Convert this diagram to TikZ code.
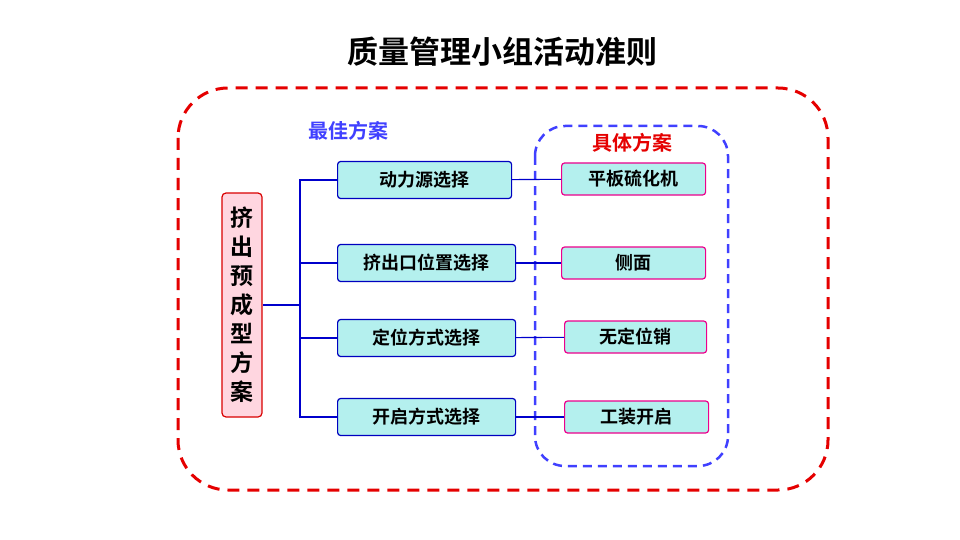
\documentclass[tikz,border=0pt]{standalone}
\usepackage{fontspec}
\setmainfont{Noto Sans CJK SC}[BoldFont={* Bold}]
\definecolor{cy}{RGB}{180,240,238}
\definecolor{pk}{RGB}{255,214,224}
\begin{document}
\begin{tikzpicture}[x=1pt,y=-1pt,
  mid/.style={draw=blue!75!black,fill=cy,line width=1.2pt,rounded corners=3pt,minimum height=37pt,font=\bfseries\fontsize{18}{18}\selectfont,anchor=west},
  rgt/.style={draw=magenta,fill=cy,line width=1.2pt,rounded corners=3pt,minimum height=32pt,font=\bfseries\fontsize{18}{18}\selectfont,anchor=west},
  con/.style={blue!80!black,line width=1.1pt}]
\useasboundingbox (0,0) rectangle (960,540);
\node[font=\bfseries\fontsize{31}{31}\selectfont] (title) at (502,52) {质量管理小组活动准则};
\draw[red!90!black,line width=3pt,dash pattern=on 12pt off 8pt,rounded corners=50pt] (178,88) rectangle (828,490);
\node[text=blue!75!white,font=\bfseries\fontsize{20}{20}\selectfont] (best) at (348,131) {最佳方案};
\draw[blue!75!white,line width=2.5pt,dash pattern=on 9pt off 6pt,rounded corners=30pt] (535,126) rectangle (728,466);
\node[text=red!90!black,font=\bfseries\fontsize{20}{20}\selectfont] (spec) at (632,143) {具体方案};
\node[draw=red!85!black,fill=pk,line width=1.2pt,rounded corners=4pt,minimum width=40pt,minimum height=224pt,align=center,font=\bfseries\fontsize{23}{29}\selectfont] (L) at (242,305) {挤\\出\\预\\成\\型\\方\\案};
\node[mid,minimum width=174pt] (m1) at (337,180) {动力源选择};
\node[mid,minimum width=178pt] (m2) at (337,263) {挤出口位置选择};
\node[mid,minimum width=178pt] (m3) at (337,338) {定位方式选择};
\node[mid,minimum width=178pt] (m4) at (337,417) {开启方式选择};
\node[rgt,minimum width=144pt] (r1) at (561,179) {平板硫化机};
\node[rgt,minimum width=144pt] (r2) at (561,263) {侧面};
\node[rgt,minimum width=142pt] (r3) at (564,337) {无定位销};
\node[rgt,minimum width=144pt] (r4) at (564,417) {工装开启};
\coordinate (j) at (300,305);
\draw[con] (L.east) -- (j);
\draw[con] (m1.west) -| (j);
\draw[con] (m4.west) -| (j);
\draw[con] (m2.west) -- (m2.west -| j);
\draw[con] (m3.west) -- (m3.west -| j);
\draw[con] (m1) -- (r1);
\draw[con] (m2) -- (r2);
\draw[con] (m3) -- (r3);
\draw[con] (m4) -- (r4);
\end{tikzpicture}
\end{document}
